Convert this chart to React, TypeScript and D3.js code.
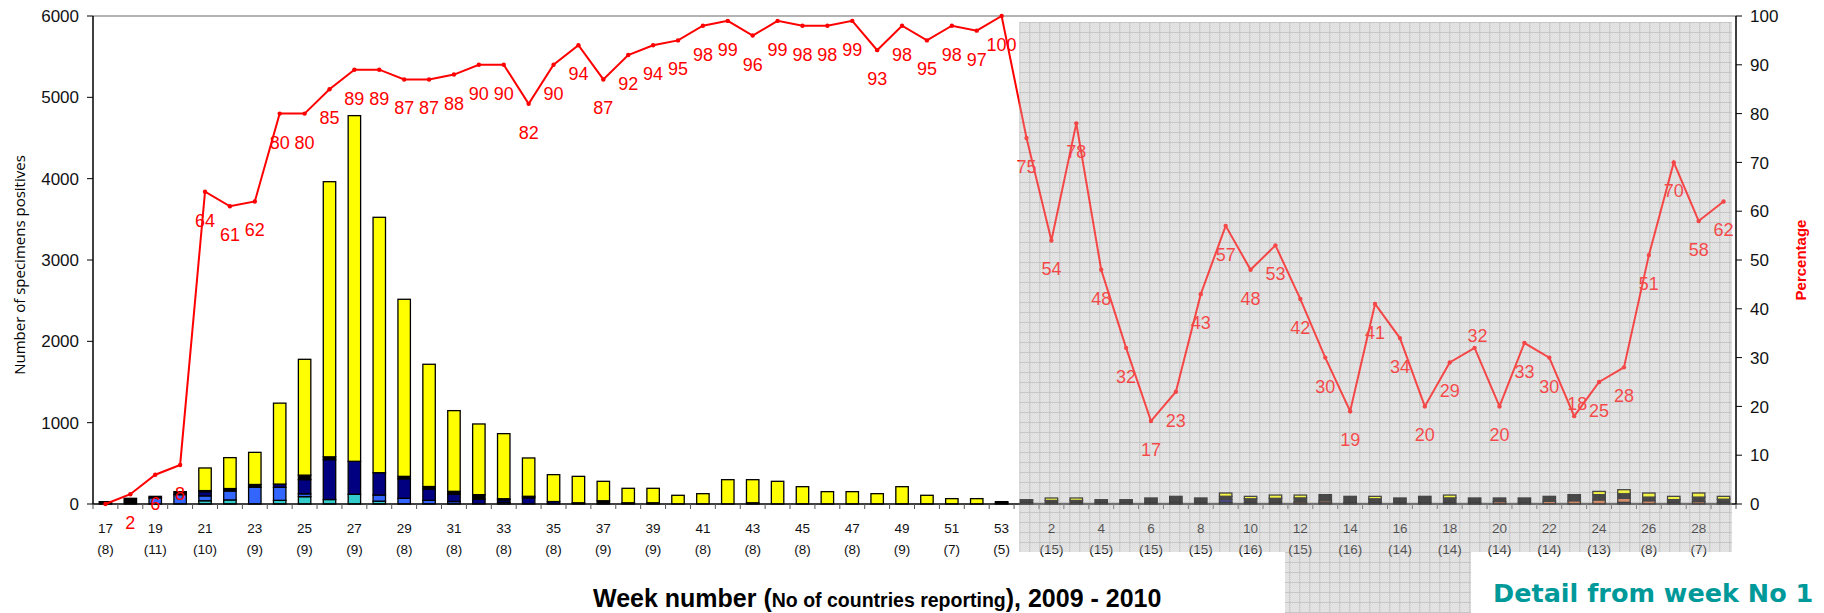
import React from "react";
import * as d3 from "d3";

// categories: 2009 weeks 17..53, then 2010 weeks 1..29
const weeks2009 = [17, 18, 19, 20, 21, 22, 23, 24, 25, 26, 27, 28, 29, 30, 31, 32, 33, 34, 35, 36, 37, 38, 39, 40, 41, 42, 43, 44, 45, 46, 47, 48, 49, 50, 51, 52, 53];
const weeks2010 = [1, 2, 3, 4, 5, 6, 7, 8, 9, 10, 11, 12, 13, 14, 15, 16, 17, 18, 19, 20, 21, 22, 23, 24, 25, 26, 27, 28, 29];

// number of positive specimens by virus type (bottom -> top of each stack)
const aH3 = [
  0, 0, 0, 0, 40, 50, 0, 45, 90, 55, 120, 35, 0, 0, 0, 0, 0, 0, 0, 0, 0, 0, 0, 0, 0, 0, 0, 0, 0, 0, 0, 0, 0, 0, 0, 0, 0,
  0, 0, 0, 0, 0, 0, 0, 0, 0, 0, 0, 0, 0, 0, 0, 0, 0, 0, 0, 0, 0, 0, 0, 0, 0, 0, 0, 0, 0,
];
const aH1 = [
  0, 0, 75, 115, 60, 110, 205, 160, 35, 0, 0, 75, 70, 45, 30, 0, 20, 0, 0, 0, 0, 0, 0, 0, 0, 0, 0, 0, 0, 0, 0, 0, 0, 0, 0, 0, 0,
  0, 0, 0, 0, 0, 0, 0, 0, 20, 0, 0, 0, 15, 15, 0, 0, 0, 0, 0, 0, 0, 0, 0, 0, 20, 0, 0, 0, 0,
];
const aNotSubtyped = [
  0, 0, 0, 0, 50, 0, 0, 40, 175, 490, 405, 275, 240, 140, 90, 60, 30, 75, 30, 0, 0, 0, 0, 0, 0, 0, 0, 0, 0, 0, 0, 0, 0, 0, 0, 0, 0,
  0, 0, 0, 0, 0, 0, 0, 0, 35, 0, 0, 0, 0, 0, 0, 0, 0, 0, 0, 0, 0, 0, 0, 0, 0, 0, 0, 0, 0,
];
const typeB = [
  0, 0, 0, 0, 0, 0, 0, 0, 0, 0, 0, 0, 0, 0, 0, 0, 0, 0, 0, 0, 0, 0, 0, 0, 0, 0, 0, 0, 0, 0, 0, 0, 0, 0, 0, 0, 0,
  0, 0, 0, 0, 0, 0, 0, 0, 0, 0, 0, 25, 25, 0, 0, 0, 0, 0, 0, 30, 0, 35, 40, 50, 50, 40, 0, 30, 0,
];
const otherA = [
  29, 70, 19, 37, 15, 30, 35, 0, 55, 35, 0, 0, 30, 30, 36, 55, 15, 20, 0, 15, 40, 15, 15, 0, 0, 0, 15, 0, 0, 0, 0, 0, 0, 0, 0, 0, 15,
  53, 44, 44, 53, 53, 74, 94, 74, 40, 64, 70, 50, 75, 79, 64, 74, 94, 75, 74, 44, 74, 59, 75, 65, 56, 45, 54, 55, 59,
];
const pandemicH1N1 = [
  0, 0, 0, 0, 278, 380, 395, 995, 1424, 3383, 4250, 3140, 2177, 1503, 992, 869, 800, 471, 331, 325, 239, 178, 178, 107, 127, 299, 284, 279, 213, 152, 152, 127, 213, 107, 66, 66, 14,
  0, 30, 30, 0, 0, 0, 0, 0, 40, 30, 40, 35, 0, 0, 30, 0, 0, 35, 0, 0, 0, 0, 0, 40, 50, 50, 40, 50, 35,
];

// percentage of pandemic A(H1N1) among positives
const percentage = [
  0, 2, 6, 8, 64, 61, 62, 80, 80, 85, 89, 89, 87, 87, 88, 90, 90, 82, 90, 94, 87, 92, 94, 95, 98, 99, 96, 99, 98, 98, 99, 93, 98, 95, 98, 97, 100,
  75, 54, 78, 48, 32, 17, 23, 43, 57, 48, 53, 42, 30, 19, 41, 34, 20, 29, 32, 20, 33, 30, 18, 25, 28, 51, 70, 58, 62,
];

// number of countries reporting, for the labelled weeks (every second week)
const countriesReporting = [8, 11, 10, 9, 9, 9, 8, 8, 8, 8, 9, 9, 8, 8, 8, 8, 9, 7, 5, 15, 15, 15, 15, 16, 15, 16, 14, 14, 14, 14, 13, 8, 7];

const leftTicks = [0, 1000, 2000, 3000, 4000, 5000, 6000];
const rightTicks = [0, 10, 20, 30, 40, 50, 60, 70, 80, 90, 100];

const seriesKeys = ["aH3", "aH1", "aNotSubtyped", "typeB", "otherA", "pandemicH1N1"];
const seriesValues: Record<string, number[]> = { aH3, aH1, aNotSubtyped, typeB, otherA, pandemicH1N1 };
const colors: Record<string, string> = {
  aH3: "#33cccc",
  aH1: "#3366ff",
  aNotSubtyped: "#000080",
  typeB: "#cc6633",
  otherA: "#000000",
  pandemicH1N1: "#ffff00",
};

const FONT = "'Liberation Sans', Arial, sans-serif";

export default function App() {
  const width = 1824;
  const height = 613;
  const left = 93;
  const right = 1736;
  const top = 16;
  const bottom = 504;

  const keys = [...weeks2009.map((w) => `2009-${w}`), ...weeks2010.map((w) => `2010-${w}`)];
  const weekText = [...weeks2009, ...weeks2010].map(String);

  const x = d3.scaleBand().domain(keys).range([left, right]).paddingInner(0.5).paddingOuter(0.25);
  const step = x.step();
  const cx = (i: number) => (x(keys[i]) as number) + x.bandwidth() / 2;

  const yLeft = d3.scaleLinear().domain([0, 6000]).range([bottom, top]);
  const yRight = d3.scaleLinear().domain([0, 100]).range([bottom, top]);

  const rows = keys.map((k, i) => {
    const r: any = { key: k };
    seriesKeys.forEach((s) => (r[s] = seriesValues[s][i]));
    return r;
  });
  const layers = d3.stack<any>().keys(seriesKeys)(rows);

  const line = d3
    .line<number>()
    .x((_, i) => cx(i))
    .y((d) => yRight(d));

  // where the 2010 "detail" panel starts
  const gx0 = (x(keys[weeks2009.length]) as number) - 1;
  const grayShape = `M${gx0},22H1732V552H1471V613H1285V552H${gx0}Z`;

  // labels that sit above their point instead of below
  const labelAbove = new Set(["2010-19", "2010-23"]);

  const tickIdx = keys.map((_, i) => i).filter((i) => i % 2 === 0);

  return (
    <svg
      width={width}
      height={height}
      style={{ position: "absolute", left: 0, top: 0, display: "block" }}
      fontFamily={FONT}
    >
      <defs>
        <pattern id="dither" width="2" height="2" patternUnits="userSpaceOnUse">
          <rect width="2" height="2" fill="#ececec" />
          <rect width="1" height="1" fill="#d8d8d8" />
          <rect x="1" y="1" width="1" height="1" fill="#d8d8d8" />
        </pattern>
        <pattern id="grid" width="10" height="10" patternUnits="userSpaceOnUse" x={gx0} y={22}>
          <rect width="10" height="10" fill="url(#dither)" />
          <path d="M0,0.5H10M0.5,0V10" stroke="#c6c6c6" strokeWidth={1} />
        </pattern>
      </defs>
      <rect width={width} height={height} fill="#ffffff" />

      {/* detail panel background */}
      <path d={grayShape} fill="url(#grid)" />

      {/* plot frame top */}
      <line x1={left} x2={right} y1={top} y2={top} stroke="#9a9a9a" strokeWidth={1.5} />

      {/* stacked bars */}
      {layers.map((layer) => (
        <g key={layer.key}>
          {layer.map((d, i) => {
            const h = yLeft(d[0]) - yLeft(d[1]);
            if (h <= 0) return null;
            return (
              <rect
                key={i}
                x={x(keys[i])}
                y={yLeft(d[1])}
                width={x.bandwidth()}
                height={h}
                fill={colors[layer.key]}
                stroke="#000"
                strokeWidth={1.3}
              />
            );
          })}
        </g>
      ))}

      {/* x axis */}
      <line x1={left} x2={right} y1={bottom} y2={bottom} stroke="#000" strokeWidth={1.5} />
      {d3.range(keys.length + 1).map((i) => (
        <line
          key={i}
          x1={left + i * step}
          x2={left + i * step}
          y1={bottom}
          y2={bottom + 5}
          stroke="#555"
          strokeWidth={1}
        />
      ))}
      {tickIdx.map((i, j) => (
        <g key={i} fontSize={13.5} textAnchor="middle" fill="#111">
          <text x={cx(i)} y={533}>
            {weekText[i]}
          </text>
          <text x={cx(i)} y={554}>
            ({countriesReporting[j]})
          </text>
        </g>
      ))}

      {/* percentage line */}
      <path d={line(percentage) || ""} fill="none" stroke="#ff0000" strokeWidth={2} />
      {percentage.map((v, i) => (
        <circle key={i} cx={cx(i)} cy={yRight(v)} r={2.2} fill="#ff0000" />
      ))}
      {percentage.map((v, i) =>
        v === 0 ? null : (
          <text
            key={i}
            x={cx(i) + (labelAbove.has(keys[i]) ? 3 : 0)}
            y={yRight(v) + (labelAbove.has(keys[i]) ? -6 : 35)}
            fontSize={18}
            textAnchor="middle"
            fill="#ff0000"
          >
            {v}
          </text>
        )
      )}

      {/* wash over the detail panel */}
      <path d={grayShape} fill="url(#grid)" opacity={0.32} />

      {/* left axis */}
      <line x1={left} x2={left} y1={top} y2={bottom} stroke="#000" strokeWidth={1.5} />
      {leftTicks.map((t) => (
        <g key={t}>
          <line x1={left - 6} x2={left} y1={yLeft(t)} y2={yLeft(t)} stroke="#000" />
          <text x={79} y={yLeft(t)} dy="0.36em" textAnchor="end" fontSize={17} fill="#111">
            {t}
          </text>
        </g>
      ))}
      <text
        transform={`translate(19,265) rotate(-90)`}
        textAnchor="middle"
        dominantBaseline="central"
        fontFamily="'Open Sans', sans-serif"
        fontSize={15}
        fill="#000"
      >
        Number of specimens positives
      </text>

      {/* right axis */}
      <line x1={right} x2={right} y1={top} y2={bottom} stroke="#000" strokeWidth={1.5} />
      {rightTicks.map((t) => (
        <g key={t}>
          <line x1={right} x2={right + 6} y1={yRight(t)} y2={yRight(t)} stroke="#000" />
          <text x={1750} y={yRight(t)} dy="0.36em" textAnchor="start" fontSize={17} fill="#111">
            {t}
          </text>
        </g>
      ))}
      <text
        transform={`translate(1800,260) rotate(-90)`}
        textAnchor="middle"
        dominantBaseline="central"
        fontSize={15}
        fontWeight="bold"
        fill="#ff0000"
      >
        Percentage
      </text>

      {/* titles */}
      <text x={593} y={607} fontWeight="bold" fill="#000" fontSize={25}>
        Week number (<tspan fontSize={19.5}>No of countries reporting</tspan>), 2009 - 2010
      </text>
      <text
        x={1493}
        y={602}
        fontFamily="'DejaVu Sans', Verdana, sans-serif"
        fontWeight="bold"
        fontSize={25.5}
        fill="#009999"
      >
        Detail from week No 1
      </text>
    </svg>
  );
}
